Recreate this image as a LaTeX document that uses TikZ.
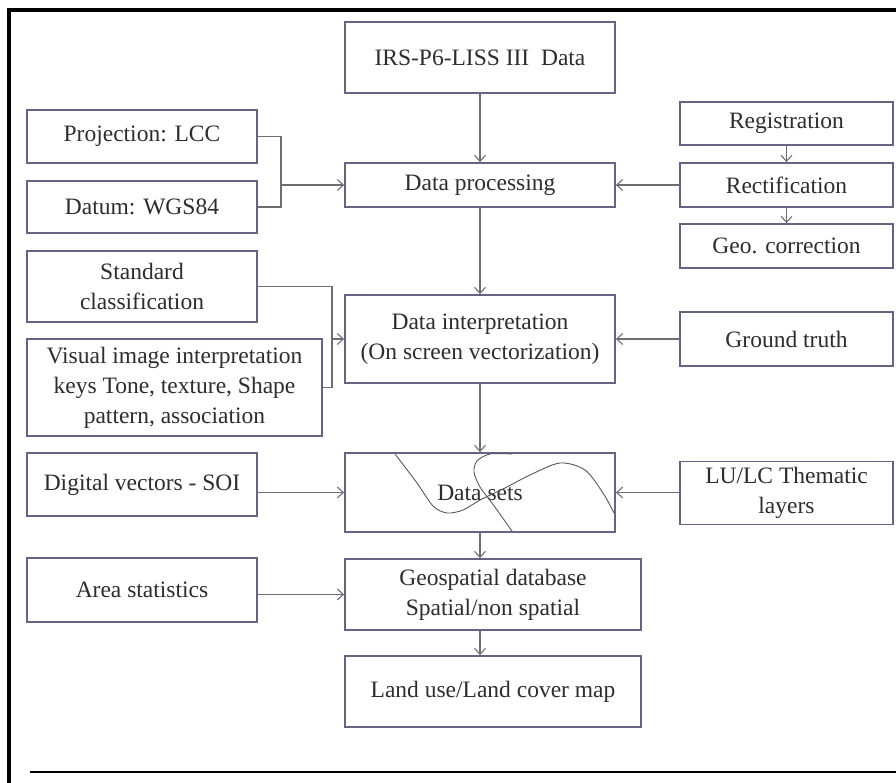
\documentclass[tikz,border=0pt]{standalone}
\usepackage{fontspec}
\setmainfont{Liberation Serif}
\usepackage{xcolor}
\usepackage{tikz}
\usetikzlibrary{arrows.meta,positioning,calc}
\definecolor{boxline}{RGB}{105,98,135}
\definecolor{arrline}{RGB}{110,110,110}
\definecolor{txtgray}{RGB}{45,45,45}

\begin{document}
\begin{tikzpicture}[x=1pt,y=-1pt,
    blk/.style={draw=boxline,line width=1.8pt,fill=white,text=txtgray,align=center,inner sep=0pt,font=\fontsize{23.5}{30}\selectfont},
    arr/.style={draw=arrline,line width=1.1pt,-{Straight Barb[length=6pt,width=11pt]}},
    ln/.style={draw=arrline,line width=1.1pt},
    crv/.style={draw=black!65,line width=0.9pt}]
    \useasboundingbox (0,0) rectangle (896,783);
    \fill[white] (0,0) rectangle (896,783);
    \draw[line width=3.5pt] (9,783) -- (9,10) -- (896,10);
    \draw[line width=2pt] (30,772) -- (896,772);

    \node[blk,minimum width=270pt,minimum height=71pt] (irs) at (480,57.5) {IRS-P6-LISS III\ \ Data};
    \node[blk,minimum width=230pt,minimum height=53pt] (proj) at (142,136.5) {Projection: LCC};
    \node[blk,minimum width=230pt,minimum height=52pt] (datum) at (142,207) {Datum: WGS84};
    \node[blk,minimum width=270pt,minimum height=44pt] (proc) at (480,185) {Data processing};
    \node[blk,minimum width=213pt,minimum height=43pt] (reg) at (786.5,123.5) {Registration};
    \node[blk,minimum width=213pt,minimum height=44pt] (rect) at (786.5,185) {Rectification};
    \node[blk,minimum width=213pt,minimum height=44pt] (geo) at (786.5,246) {Geo. correction};
    \node[blk,minimum width=230pt,minimum height=71pt] (std) at (142,286.5) {Standard\\classification};
    \node[blk,minimum width=295pt,minimum height=97pt] (vis) at (174.5,387.5) {Visual image interpretation\\keys Tone, texture, Shape\\pattern, association};
    \node[blk,minimum width=270pt,minimum height=88pt] (interp) at (480,339) {Data interpretation\\(On screen vectorization)};
    \node[blk,minimum width=213pt,minimum height=54pt] (gt) at (786.5,339) {Ground truth};
    \node[blk,minimum width=230pt,minimum height=63pt] (dv) at (142,484.5) {Digital vectors - SOI};
    \node[blk,minimum width=270pt,minimum height=79pt] (dsets) at (480,492.5) {Data sets};
    \node[blk,minimum width=213pt,minimum height=63pt] (lulc) at (786.5,493) {LU/LC Thematic\\layers};
    \node[blk,minimum width=230pt,minimum height=64pt] (area) at (142,590) {Area statistics};
    \node[blk,minimum width=296pt,minimum height=71pt] (gdb) at (493,594.5) {Geospatial database\\Spatial/non spatial};
    \node[blk,minimum width=296pt,minimum height=71pt] (map) at (493,691.5) {Land use/Land cover map};

    \draw[crv] plot[smooth] coordinates {(395,454) (417,483) (433,506) (447,513) (463,510) (480,500) (505,488) (530,475) (560,463) (585,470) (603,493) (614,513)};
    \draw[crv] plot[smooth] coordinates {(512,454) (490,454) (477,461) (474,472) (480,487) (492,503) (502,517) (512,531)};

    \coordinate (j1) at (281,185);
    \coordinate (j2) at (332,339);
    \draw[ln] (proj.east) -| (j1) |- (datum.east);
    \draw[arr] (j1) -- (proc.west);
    \draw[ln] (std.east) -| (j2) |- (vis.east);
    \draw[arr] (j2) -- (interp.west);

    \draw[arr] (irs.south) -- (proc.north);
    \draw[arr] (rect.west) -- (proc.east);
    \draw[arr] (reg.south) -- (rect.north);
    \draw[arr] (rect.south) -- (geo.north);
    \draw[arr] (proc.south) -- (interp.north);
    \draw[arr] (gt.west) -- (interp.east);
    \draw[arr] (interp.south) -- (dsets.north);
    \draw[arr] (dv.east |- dsets.west) -- (dsets.west);
    \draw[arr] (lulc.west |- dsets.east) -- (dsets.east);
    \draw[arr] (dsets.south) -- (dsets.south |- gdb.north);
    \draw[arr] (area.east |- gdb.west) -- (gdb.west);
    \draw[arr] (dsets.south |- gdb.south) -- (dsets.south |- map.north);
\end{tikzpicture}
\end{document}
